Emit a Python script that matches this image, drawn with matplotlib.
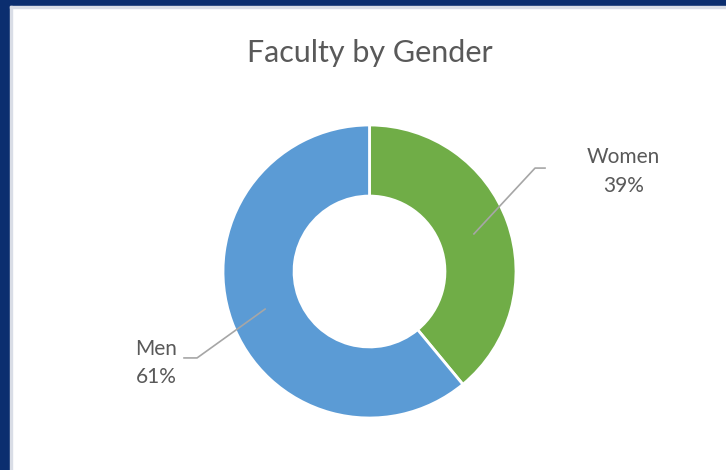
import numpy as np
import matplotlib
matplotlib.use("Agg")
import matplotlib.pyplot as plt
from matplotlib.patches import Rectangle

# chart data
categories = ["Women", "Men"]
shares = [39, 61]
colors = ["#70AD47", "#5B9BD5"]

title = "Faculty by Gender"
text_col = "#595959"
navy = "#0B2E6F"

plt.rcParams['font.family'] = ['Lato', 'DejaVu Sans']

W, H = 726, 470
fig = plt.figure(figsize=(W / 100, H / 100), dpi=100)
fig.patch.set_facecolor("white")

# navy frame (top and left bands of the slide)
fig.add_artist(Rectangle((0, 1 - 6 / H), 1, 6 / H, transform=fig.transFigure,
                         color=navy, zorder=0))
fig.add_artist(Rectangle((0, 0), 10 / W, 1, transform=fig.transFigure,
                         color=navy, zorder=0))
fig.add_artist(Rectangle((10 / W, 0), 1.5 / W, 1 - 6 / H, transform=fig.transFigure,
                         color="#d9dde6", zorder=0))
fig.add_artist(Rectangle((10 / W, 1 - 7.5 / H), 1, 1.5 / H, transform=fig.transFigure,
                         color="#d9dde6", zorder=0))

# doughnut axes: centre (369.5, 271.5) px, radius 146.5 px
cx, cy, r = 369.5, 271.5, 146.5
ax = fig.add_axes([(cx - r) / W, (H - cy - r) / H, 2 * r / W, 2 * r / H])

hole = 0.515
wedges, _ = ax.pie(shares, colors=colors, startangle=90, counterclock=False,
                   radius=1, wedgeprops=dict(width=1 - hole, edgecolor="white",
                                             linewidth=2))
ax.set_xlim(-1, 1)
ax.set_ylim(-1, 1)
ax.axis("off")

fig.text(370 / W, 1 - 53 / H, title, ha="center", va="center",
         fontsize=22, color=text_col)

# labels with leader lines
mid_r = (1 + hole) / 2
label_layout = {
    "Women": dict(elbow=(1.13, 0.706), end=1.198, text=(1.734, 0.685)),
    "Men": dict(elbow=(-1.177, -0.590), end=-1.266, text=(-1.457, -0.625)),
}
for w, cat, s in zip(wedges, categories, shares):
    ang = np.deg2rad((w.theta1 + w.theta2) / 2)
    x0, y0 = mid_r * np.cos(ang), mid_r * np.sin(ang)
    lay = label_layout[cat]
    ex, ey = lay["elbow"]
    ax.plot([x0, ex, lay["end"]], [y0, ey, ey], color="#A6A6A6", lw=1.2,
            clip_on=False, zorder=5)
    tx, ty = lay["text"]
    ax.text(tx, ty, f"{cat}\n{s}%", ha="center", va="center", fontsize=15,
            color=text_col, linespacing=1.55, clip_on=False)

fig.savefig("out.png", dpi=100, facecolor=fig.get_facecolor())
